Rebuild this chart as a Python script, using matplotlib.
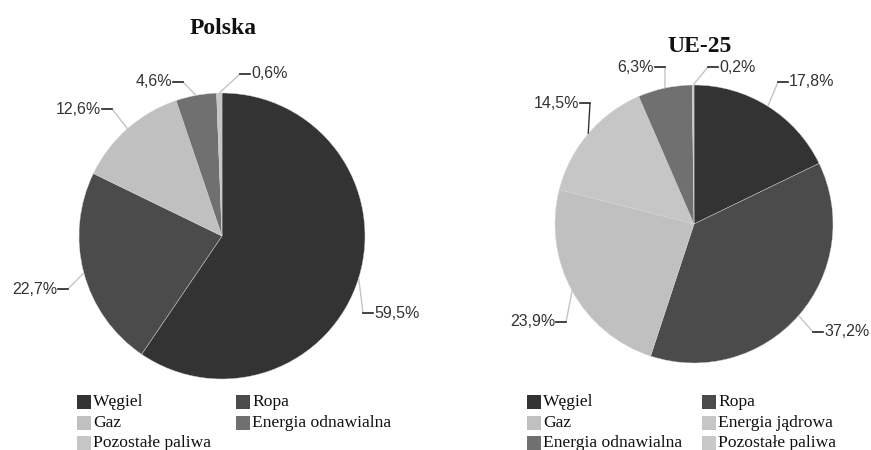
import numpy as np
import matplotlib
matplotlib.use('Agg')
import matplotlib.pyplot as plt
from matplotlib.patches import Rectangle

# data
pl_labels = ['Węgiel', 'Ropa', 'Gaz', 'Energia odnawialna', 'Pozostałe paliwa']
pl_values = [59.5, 22.7, 12.6, 4.6, 0.6]
pl_colors = ['#333333', '#4b4b4b', '#c0c0c0', '#707070', '#c6c6c6']

ue_labels = ['Węgiel', 'Ropa', 'Gaz', 'Energia jądrowa', 'Energia odnawialna', 'Pozostałe paliwa']
ue_values = [17.8, 37.2, 23.9, 14.5, 6.3, 0.2]
ue_colors = ['#333333', '#4b4b4b', '#c0c0c0', '#c6c6c6', '#707070', '#c8c8c8']

# layout (pixels)
W, H = 871, 450
fig = plt.figure(figsize=(W / 100, H / 100), dpi=100)
ax = fig.add_axes([0, 0, 1, 1])

lbl_font = dict(family='Liberation Sans', size=11.5, color='#333333')
leg_font = dict(family='Liberation Serif', size=12.6, color='#111111')


def draw_pie(values, colors, center, radius, elbows, line_colors):
    ax.pie(values, colors=colors, center=center, radius=radius,
           startangle=-90, counterclock=True,
           wedgeprops=dict(edgecolor='#d4d4d4', linewidth=0.3))
    total = float(sum(values))
    cum = np.cumsum([0] + list(values))
    for i, v in enumerate(values):
        mid = (cum[i] + v / 2) / total * 2 * np.pi
        ax_x = center[0] + radius * np.sin(mid)
        ax_y = center[1] - radius * np.cos(mid)
        ex, ey, side = elbows[i]
        ax.plot([ax_x, ex], [ax_y, ey], color=line_colors[i], lw=1, solid_capstyle='butt')
        txt = ('%.1f%%' % v).replace('.', ',')
        if side == 'r':
            ax.plot([ex, ex + 10], [ey, ey], color='#222222', lw=1.2)
            ax.text(ex + 11, ey, txt, ha='left', va='center', **lbl_font)
        else:
            ax.plot([ex - 10, ex], [ey, ey], color='#222222', lw=1.2)
            ax.text(ex - 11, ey, txt, ha='right', va='center', **lbl_font)


def draw_legend(labels, colors, xs, ys):
    for i, (lab, c) in enumerate(zip(labels, colors)):
        x = xs[i % 2]
        y = ys[i // 2]
        ax.add_patch(Rectangle((x, y - 7), 14, 14, facecolor=c, edgecolor='none'))
        ax.text(x + 16, y, lab, ha='left', va='center', **leg_font)


draw_pie(pl_values, pl_colors, (222, 236), 143,
         [(363, 313, 'r'), (68, 289, 'l'), (112, 109, 'l'), (183, 82, 'l'), (240, 74, 'r')],
         ['#c4c4c4'] * 5)
draw_pie(ue_values, ue_colors, (694, 224), 139,
         [(778, 82, 'r'), (813, 332, 'r'), (566, 322, 'l'), (590, 103, 'l'), (665, 67, 'l'), (708, 67, 'r')],
         ['#c4c4c4', '#c4c4c4', '#c4c4c4', '#333333', '#c4c4c4', '#c4c4c4'])

draw_legend(pl_labels, pl_colors, [77, 236], [402, 423, 443])
draw_legend(ue_labels, ue_colors, [527, 702], [402, 423, 443])

ax.text(223, 28, 'Polska', ha='center', va='center', family='Liberation Serif',
        weight='bold', size=17, color='#111111')
ax.text(700, 46, 'UE-25', ha='center', va='center', family='Liberation Serif',
        weight='bold', size=17, color='#111111')

ax.set_xlim(0, W)
ax.set_ylim(H, 0)
ax.set_aspect('equal')
ax.axis('off')

fig.savefig('out.png', dpi=100, facecolor='white')
